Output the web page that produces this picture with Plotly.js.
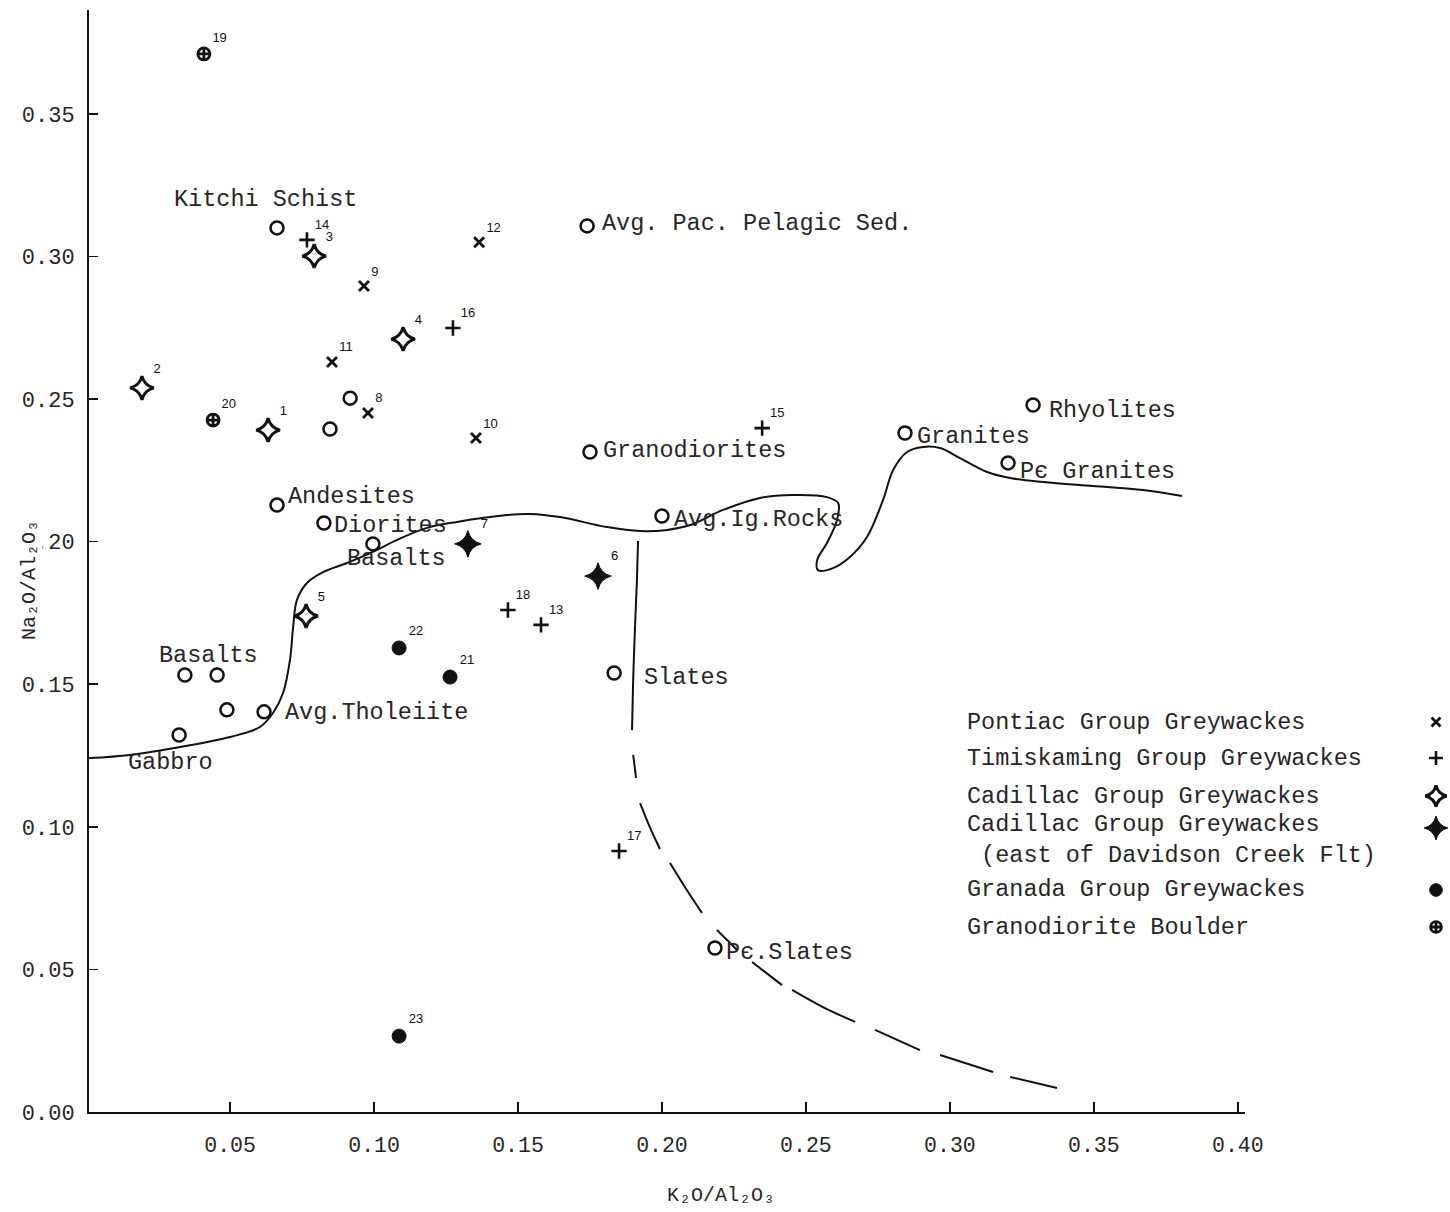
<!DOCTYPE html>
<html>
<head>
<meta charset="utf-8">
<script src="https://cdn.plot.ly/plotly-3.0.1.min.js"></script>
<style>html,body{margin:0;padding:0;background:#fff;}</style>
</head>
<body>
<div id="chart" style="width:1450px;height:1212px;"></div>
<script>
// ---------------- DATA ----------------
const xTickVals = [0.05, 0.10, 0.15, 0.20, 0.25, 0.30, 0.35, 0.40];
const xTickText = ['0.05', '0.10', '0.15', '0.20', '0.25', '0.30', '0.35', '0.40'];
const yTickVals = [0.00, 0.05, 0.10, 0.15, 0.20, 0.25, 0.30, 0.35];
const yTickText = ['0.00', '0.05', '0.10', '0.15', '0.20', '0.25', '0.30', '0.35'];
const xTitle = 'K\u2082O/Al\u2082O\u2083';
const yTitle = 'Na\u2082O/Al\u2082O\u2083';

// Pontiac Group Greywackes (x)
const pontiacX = [0.1365, 0.0965, 0.0854, 0.0979, 0.1354];
const pontiacY = [0.3050, 0.2896, 0.2630, 0.2451, 0.2363];
const pontiacNo = ['12', '9', '11', '8', '10'];

// Timiskaming Group Greywackes (+)
const timiskamingX = [0.0767, 0.1274, 0.2348, 0.1465, 0.1580, 0.1851];
const timiskamingY = [0.3058, 0.2749, 0.2398, 0.1760, 0.1708, 0.0915];
const timiskamingNo = ['14', '16', '15', '18', '13', '17'];

// Cadillac Group Greywackes (open)
const cadillacX = [0.0792, 0.1101, 0.0194, 0.0632, 0.0764];
const cadillacY = [0.3001, 0.2710, 0.2539, 0.2391, 0.1739];
const cadillacNo = ['3', '4', '2', '1', '5'];

// Cadillac Group Greywackes, east of Davidson Creek Flt (filled)
const cadEastX = [0.1326, 0.1778];
const cadEastY = [0.1992, 0.1879];
const cadEastNo = ['7', '6'];

// Granada Group Greywackes (filled circle)
const granadaX = [0.1087, 0.1264, 0.1087];
const granadaY = [0.1627, 0.1525, 0.0266];
const granadaNo = ['22', '21', '23'];

// Granodiorite Boulder
const boulderX = [0.0409, 0.0441];
const boulderY = [0.3710, 0.2426];
const boulderNo = ['19', '20'];

// Reference rock averages (open circles)
const rockNames = ['Kitchi Schist', 'Avg. Pac. Pelagic Sed.', '', '', 'Granodiorites',
  'Rhyolites', 'Granites', 'P\u0454 Granites', 'Andesites', 'Diorites', 'Avg.Ig.Rocks',
  'Basalts', 'Slates', 'Basalts', '', '', 'Avg.Tholeiite', 'Gabbro', 'P\u0454.Slates'];
const rockX = [0.0663, 0.1740, 0.0917, 0.0847, 0.1750, 0.3289, 0.2844, 0.3202, 0.0663, 0.0826,
  0.2000, 0.0996, 0.1834, 0.0343, 0.0455, 0.0489, 0.0618, 0.0323, 0.2184];
const rockY = [0.3100, 0.3107, 0.2503, 0.2395, 0.2314, 0.2479, 0.2381, 0.2276, 0.2128, 0.2065,
  0.2090, 0.1992, 0.1539, 0.1532, 0.1532, 0.1410, 0.1403, 0.1322, 0.0575];

// Solid boundary curve
const boundaryX = [0.0010, 0.0152, 0.0326, 0.0500, 0.0604, 0.0649, 0.0684, 0.0708, 0.0719, 0.0732,
  0.0767, 0.0823, 0.0906, 0.0996, 0.1080, 0.1184, 0.1288, 0.1462, 0.1542, 0.1646, 0.1809, 0.1924,
  0.2018, 0.2098, 0.2212, 0.2341, 0.2455, 0.2573, 0.2612, 0.2608, 0.2573, 0.2539, 0.2542, 0.2594,
  0.2653, 0.2712, 0.2768, 0.2803, 0.2851, 0.2907, 0.2966, 0.3035, 0.3129, 0.3209, 0.3324, 0.3497,
  0.3671, 0.3806];
const boundaryY = [0.1241, 0.1252, 0.1280, 0.1315, 0.1350, 0.1399, 0.1469, 0.1585, 0.1701, 0.1795,
  0.1855, 0.1893, 0.1925, 0.1964, 0.2006, 0.2048, 0.2069, 0.2093, 0.2097, 0.2086, 0.2051, 0.2037,
  0.2041, 0.2058, 0.2111, 0.2153, 0.2163, 0.2156, 0.2135, 0.2076, 0.1995, 0.1935, 0.1900, 0.1907,
  0.1946, 0.2016, 0.2146, 0.2251, 0.2314, 0.2332, 0.2328, 0.2293, 0.2244, 0.2223, 0.2209, 0.2195,
  0.2181, 0.2160];

// Slates boundary (solid part, then dashed segments separated by gaps)
const slateX = [0.1917, 0.1913, 0.1906, 0.1900, 0.1896, null,
  0.1900, 0.1910, null,
  0.1924, 0.1959, 0.1993, null,
  0.2028, 0.2084, 0.2139, null,
  0.2191, 0.2261, null,
  0.2313, 0.2417, null,
  0.2452, 0.2559, 0.2671, null,
  0.2740, 0.2896, null,
  0.2966, 0.3150, null,
  0.3209, 0.3372];
const slateY = [0.2002, 0.1865, 0.1690, 0.1515, 0.1339, null,
  0.1252, 0.1171, null,
  0.1083, 0.0996, 0.0922, null,
  0.0873, 0.0782, 0.0698, null,
  0.0638, 0.0568, null,
  0.0526, 0.0445, null,
  0.0428, 0.0368, 0.0316, null,
  0.0288, 0.0217, null,
  0.0200, 0.0140, null,
  0.0123, 0.0084];

const legendNames = ['Pontiac Group Greywackes', 'Timiskaming Group Greywackes',
  'Cadillac Group Greywackes', 'Cadillac Group Greywackes<br>\u00a0(east of Davidson Creek Flt)',
  'Granada Group Greywackes', 'Granodiorite Boulder'];

// ---------------- STYLE / LAYOUT ----------------
const INK = '#111111';
const TXT = '#262626';
const MONO = 'Liberation Mono, DejaVu Sans Mono, monospace';
const W = 1450, H = 1212;
const plotL = 89, plotR = 1245, plotT = 10, plotB = 1112;

function grp(x, y, no, marker) {
  return {
    type: 'scatter', mode: 'markers+text', x: x, y: y, text: no,
    textposition: 'top right',
    textfont: {family: 'Liberation Sans, Arial, sans-serif', size: 13, color: INK},
    cliponaxis: false, marker: marker, hoverinfo: 'skip', xaxis: 'x', yaxis: 'y'
  };
}

const mk = {
  pontiac: {symbol: 'x-thin', size: 10, color: INK, line: {color: INK, width: 2.8}},
  timis: {symbol: 'cross-thin', size: 11, color: INK, line: {color: INK, width: 2.6}},
  cad: {symbol: 'star-diamond-open', size: 17, color: INK, line: {color: INK, width: 3}},
  cadE: {symbol: 'star-diamond', size: 19, color: INK, line: {color: INK, width: 1}},
  gran: {symbol: 'circle', size: 14, color: INK, line: {color: INK, width: 1}},
  boul: {symbol: 'circle-cross-open', size: 12, color: INK, line: {color: INK, width: 2.8}}
};

const traces = [
  {type: 'scatter', mode: 'lines', x: boundaryX, y: boundaryY, line: {color: INK, width: 2, shape: 'spline', smoothing: 1},
   cliponaxis: false, hoverinfo: 'skip'},
  {type: 'scatter', mode: 'lines', x: slateX, y: slateY, connectgaps: false,
   line: {color: INK, width: 2, shape: 'spline', smoothing: 1}, cliponaxis: false, hoverinfo: 'skip'},
  {type: 'scatter', mode: 'markers', x: rockX, y: rockY, cliponaxis: false, hoverinfo: 'skip',
   marker: {symbol: 'circle-open', size: 13, color: INK, line: {color: INK, width: 2.5}}},
  grp(pontiacX, pontiacY, pontiacNo, mk.pontiac),
  grp(timiskamingX, timiskamingY, timiskamingNo, mk.timis),
  grp(cadillacX, cadillacY, cadillacNo, mk.cad),
  grp(cadEastX, cadEastY, cadEastNo, mk.cadE),
  grp(granadaX, granadaY, granadaNo, mk.gran),
  grp(boulderX, boulderY, boulderNo, mk.boul)
];

// legend (text on the left, key symbol on the right, as in the original)
const legendTextX = 965 / W;
const legendKeyX = 1436 / W;
const legendRowsPx = [722, 758, 796, 828, 890, 927];
const legendTextRowsPx = [722, 758, 796, 840, 890, 927];
const keys = [mk.pontiac, mk.timis, mk.cad, mk.cadE, mk.gran, mk.boul];
keys.forEach((k, i) => {
  traces.push({
    type: 'scatter', mode: 'markers', xaxis: 'x2', yaxis: 'y2', hoverinfo: 'skip', cliponaxis: false,
    x: [legendKeyX], y: [1 - legendRowsPx[i] / H],
    marker: {symbol: k.symbol, size: k.size * 0.9, color: INK, line: {color: INK, width: k.line.width}}
  });
});

// label placement for reference rocks: [xanchor, xshift, yshift]
const rockLabelPos = {
  0: ['center', -12, 28], 1: ['left', 13, 2], 4: ['left', 11, 2], 5: ['left', 14, -6],
  6: ['left', 10, -4], 7: ['left', 10, -9], 8: ['left', 9, 9], 9: ['left', 8, -2],
  10: ['left', 10, -4], 11: ['left', -28, -15], 12: ['left', 28, -4], 13: ['left', -28, 20],
  16: ['left', 19, -1], 17: ['center', -9, -28], 18: ['left', 9, -4]
};

const annotations = [];
rockNames.forEach((name, i) => {
  if (!name) return;
  const p = rockLabelPos[i];
  annotations.push({
    x: rockX[i], y: rockY[i], xref: 'x', yref: 'y', text: name, showarrow: false,
    xanchor: p[0], yanchor: 'middle', xshift: p[1], yshift: p[2],
    font: {family: MONO, size: 23.5, color: TXT}
  });
});
legendNames.forEach((name, i) => {
  annotations.push({
    x: legendTextX, y: 1 - legendTextRowsPx[i] / H, xref: 'paper', yref: 'paper', text: name,
    showarrow: false, xanchor: 'left', yanchor: 'middle', align: 'left',
    font: {family: MONO, size: 23.5, color: TXT}
  });
});
// axis titles
annotations.push({
  x: 721 / W, y: 1 - 1195 / H, xref: 'paper', yref: 'paper', showarrow: false,
  text: xTitle, xanchor: 'center', yanchor: 'middle',
  font: {family: MONO, size: 20, color: TXT}
});
annotations.push({
  x: 29 / W, y: 1 - 580 / H, xref: 'paper', yref: 'paper', showarrow: false, textangle: -90,
  text: yTitle, xanchor: 'center', yanchor: 'middle',
  bgcolor: '#ffffff', font: {family: MONO, size: 20, color: TXT}
});

const layout = {
  width: W, height: H,
  margin: {l: 0, r: 0, t: 0, b: 0, pad: 0},
  paper_bgcolor: '#ffffff', plot_bgcolor: 'rgba(0,0,0,0)',
  showlegend: false,
  xaxis: {
    domain: [plotL / W, plotR / W], range: [0.001, 0.4025], anchor: 'y',
    tickmode: 'array', tickvals: xTickVals, ticktext: xTickText,
    ticks: 'inside', ticklen: 10, tickwidth: 1.5, tickcolor: INK,
    showline: true, linecolor: INK, linewidth: 2, showgrid: false, zeroline: false,
    tickfont: {family: MONO, size: 21.5, color: TXT}, automargin: false, ticklabelstandoff: 12, fixedrange: true
  },
  yaxis: {
    domain: [1 - plotB / H, 1 - plotT / H], range: [0, (plotB - plotT) / 2852], anchor: 'x',
    tickmode: 'array', tickvals: yTickVals, ticktext: yTickText,
    ticks: 'inside', ticklen: 9, tickwidth: 1.5, tickcolor: INK,
    showline: true, linecolor: INK, linewidth: 2, showgrid: false, zeroline: false,
    tickfont: {family: MONO, size: 22, color: TXT}, automargin: false, ticklabelstandoff: 8, fixedrange: true
  },
  xaxis2: {domain: [0, 1], range: [0, 1], anchor: 'y2', visible: false, fixedrange: true},
  yaxis2: {domain: [0, 1], range: [0, 1], anchor: 'x2', visible: false, fixedrange: true},
  annotations: annotations
};

Plotly.newPlot('chart', traces, layout, {staticPlot: true, displayModeBar: false});
</script>
</body>
</html>
